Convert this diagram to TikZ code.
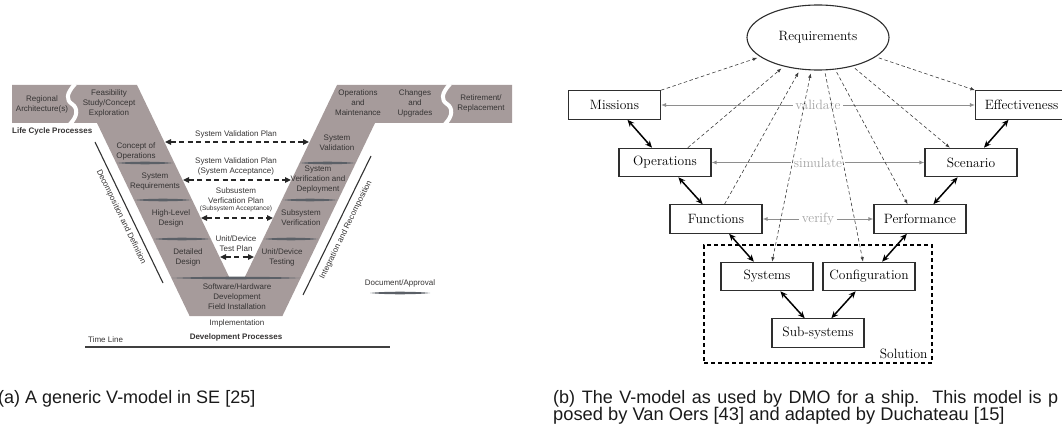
\documentclass[tikz,border=0pt]{standalone}
\usepackage{fontspec}
\newfontfamily\arialf{Liberation Sans}
\usetikzlibrary{arrows.meta,shapes.geometric,calc}

\definecolor{vfill}{HTML}{A69B9B}
\definecolor{vtext}{HTML}{363434}
\definecolor{lensc}{HTML}{5B6067}
\definecolor{boxc}{HTML}{2E2E2E}
\definecolor{dgray}{HTML}{3C3C3C}
\definecolor{lgray}{HTML}{8E8E8E}
\definecolor{ltext}{HTML}{A2A2A2}
\definecolor{captc}{HTML}{1A1A1A}

% thin lens-shaped document/approval mark between x=#1 and x=#2 at height #3
\newcommand\lensbar[3]{%
  \pgfmathsetmacro\lensa{#1+0.22*(#2-#1)}%
  \pgfmathsetmacro\lensb{#2-0.22*(#2-#1)}%
  \fill[lensc] (#1,#3) .. controls (\lensa,#3-1.7) and (\lensb,#3-1.7) .. (#2,#3)
    .. controls (\lensb,#3+1.7) and (\lensa,#3+1.7) .. (#1,#3) -- cycle;}

\begin{document}
\begin{tikzpicture}[x=1pt,y=-1pt,
  vt/.style={text=vtext, font=\arialf\fontsize{8}{10}\selectfont, align=center, inner sep=0pt},
  vsmall/.style={vt, font=\arialf\fontsize{6.5}{8}\selectfont},
  vbold/.style={vt, font=\arialf\bfseries\fontsize{8}{10}\selectfont},
  plan/.style={draw=black!85, line width=1.3pt, dash pattern=on 5pt off 3.5pt,
    {Triangle[length=6pt,width=5.5pt]}-{Triangle[length=6pt,width=5.5pt]}},
  slant/.style={draw=black!80, line width=1.1pt},
  capt/.style={text=captc, font=\arialf\fontsize{18}{17}\selectfont, inner sep=0pt},
  rbox/.style={draw=boxc, line width=1.1pt, minimum width=92pt, minimum height=28.5pt,
    inner sep=0pt, font=\fontsize{13.5}{15}\selectfont},
  glab/.style={text=ltext, font=\fontsize{13.5}{15}\selectfont, inner sep=2.5pt},
  tk/.style={draw=black, line width=1.5pt,
    {Stealth[length=7pt,width=6pt]}-{Stealth[length=7pt,width=6pt]}},
  dsh/.style={draw=dgray, line width=0.6pt, dash pattern=on 3.5pt off 2.5pt},
  dtip/.style={-{Latex[length=4.5pt,width=3.5pt]}},
  gar/.style={draw=lgray, line width=0.9pt, -{Latex[length=5pt,width=4pt]}}
]
\useasboundingbox (0,0) rectangle (1062,430);

% ---------------- (a) generic V-model ----------------
\fill[vfill] (12,85) -- (137,85) -- (229.6,278) -- (244.4,278) -- (337,85) -- (512,85)
  -- (512,123) -- (375,123) -- (282.4,316) -- (189.6,316) -- (97,123) -- (12,123) -- cycle;
% wavy breaks in the top bands
\draw[white, line width=4pt] (75,84) .. controls (66,94) and (66,100) .. (72,104)
  .. controls (78,108) and (78,116) .. (70,124);
\draw[white, line width=4pt] (450,84) .. controls (441,94) and (441,100) .. (447,104)
  .. controls (453,108) and (453,116) .. (445,124);

% document/approval marks
\lensbar{117}{173}{163}
\lensbar{135}{191}{200}
\lensbar{154}{210}{239}
\lensbar{300}{355}{163}
\lensbar{283}{337}{200}
\lensbar{264}{318}{239}
\lensbar{172}{300}{278}

% band and arm labels
\node[vt] (reg) at (42,104.5) {Regional\\Architecture(s)};
\node[vt] (fea) at (109,103) {Feasibility\\Study/Concept\\Exploration};
\node[vt] (opm) at (358,103) {Operations\\and\\Maintenance};
\node[vt] (chg) at (415,103) {Changes\\and\\Upgrades};
\node[vt] (ret) at (481,103) {Retirement/\\Replacement};
\node[vbold, anchor=west] (lcp) at (12,131) {Life Cycle Processes};

\node[vt] (cop) at (136,151) {Concept of\\Operations};
\node[vt] (sreq) at (155,181.5) {System\\Requirements};
\node[vt] (hld) at (171,218) {High-Level\\Design};
\node[vt] (dd) at (188,257) {Detailed\\Design};
\node[vt] (swhw) at (237,297) {Software/Hardware\\Development\\Field Installation};
\node[vt] (impl) at (237,323) {Implementation};
\node[vbold] (devp) at (236,337) {Development Processes};
\node[vt, anchor=west] (tl) at (88,340) {Time Line};

\node[vt] (sval) at (337,142.5) {System\\Validation};
\node[vt] (sver) at (318,180) {System\\Verification and\\Deployment};
\node[vt] (ssv) at (301,218) {Subsystem\\Verification};
\node[vt] (udt) at (282,257) {Unit/Device\\Testing};

% plans between the arms
\node[vt] (p1) at (236,134) {System Validation Plan};
\node[vt] (p2) at (236,166.5) {System Validation Plan\\(System Acceptance)};
\node[vt] (p3) at (236,195.5) {Subsustem\\Verfication Plan};
\node[vsmall] (p3s) at (236,209) {(Subsystem Acceptance)};
\node[vt] (p4) at (236,243.5) {Unit/Device\\Test Plan};

\coordinate (p1l) at (165,142);   \coordinate (p1r) at (309,142);
\coordinate (p2l) at (183,180);   \coordinate (p2r) at (291,180);
\coordinate (p3l) at (201,218);   \coordinate (p3r) at (273,218);
\coordinate (p4l) at (220,257);   \coordinate (p4r) at (254,257);
\draw[plan] (p1l) -- (p1r);
\draw[plan] (p2l) -- (p2r);
\draw[plan] (p3l) -- (p3r);
\draw[plan] (p4l) -- (p4r);

% decomposition / integration side lines
\coordinate (decA) at (95,142);  \coordinate (decB) at (163,283);
\coordinate (intA) at (303,295); \coordinate (intB) at (371,156);
\draw[slant] (decA) -- (decB);
\draw[slant] (intA) -- (intB);
\node[vt, rotate=-64.25] (dec) at (121,217) {Decomposition and Definition};
\node[vt, rotate=63.9] (int) at (346,230) {Integration and Recomposition};

% legend and time line
\node[vt] (doc) at (400,283) {Document/Approval};
\lensbar{370}{430}{293}
\coordinate (tlA) at (85,347); \coordinate (tlB) at (390,347);
\draw[draw=black!75, line width=1.6pt] (tlA) -- (tlB);

% ---------------- (b) ship V-model ----------------
\node[draw=boxc, line width=1.1pt, ellipse, minimum width=142pt, minimum height=65pt,
  inner sep=0pt, font=\fontsize{13.5}{15}\selectfont] (req) at (818,37.5) {Requirements};

\node[rbox] (mis) at (614.5,105) {Missions};
\node[rbox] (eff) at (1021.5,105) {Effectiveness};
\node[rbox] (ops) at (665,162.5) {Operations};
\node[rbox] (sce) at (971,162.5) {Scenario};
\node[rbox] (fun) at (716,219) {Functions};
\node[rbox] (per) at (920,219) {Performance};
\node[rbox] (sys) at (767,276.5) {Systems};
\node[rbox] (con) at (869,276.5) {Configuration};
\node[rbox] (sub) at (818,333) {Sub-systems};

\node[draw=black, line width=1.5pt, dash pattern=on 4pt off 3pt, minimum width=228pt,
  minimum height=118pt, inner sep=0pt] (sol) at (818,304) {};
\node[anchor=base east, inner sep=0pt, font=\fontsize{13.5}{15}\selectfont] (soltxt)
  at ($(sol.south east)+(-5,-5)$) {Solution};

% validate / simulate / verify
\node[glab] (val) at (818,105) {validate};
\node[glab] (sim) at (818,162.5) {simulate};
\node[glab] (ver) at (818,219) {verify};
\draw[gar] (val) -- (mis);
\draw[gar] (val) -- (eff);
\draw[gar] (sim) -- (ops);
\draw[gar] (sim) -- (sce);
\draw[gar] (ver) -- (fun);
\draw[gar] (ver) -- (per);

% traces to and from the requirements
\draw[dsh, dtip, shorten >=3pt] (mis.north east) -- (req);
\draw[dsh, dtip, shorten >=3pt] (ops.33) -- (req);
\draw[dsh, dtip, shorten >=3pt] (fun.60) -- (req);
\draw[dsh, {Latex[length=4.5pt,width=3.5pt]}-{Latex[length=4.5pt,width=3.5pt]},
  shorten <=3pt] (req) -- (sys.71);
\draw[dsh, dtip, shorten <=3pt] (req) -- (con.112);
\draw[dsh, dtip, shorten <=3pt] (req) -- (per.130);
\draw[dsh, dtip, shorten <=3pt] (req) -- (sce.145);
\draw[dsh, dtip, shorten <=3pt] (req) -- (eff.north west);

% decomposition links
\draw[tk] (mis) -- (ops);
\draw[tk] (ops) -- (fun);
\draw[tk] (fun) -- (sys);
\draw[tk] (eff) -- (sce);
\draw[tk] (sce) -- (per);
\draw[tk] (per) -- (con);
\draw[tk] (sys) -- (sub);
\draw[tk] (con) -- (sub);

% ---------------- captions ----------------
\node[capt, anchor=base west] (capa) at (-2,403) {(a) A generic V-model in SE [25]};
\node[capt, anchor=base west] (capb1) at (553,403)
  {\makebox[505pt][s]{(b) The V-model as used by DMO for a ship.\ \ This model is p}};
\node[capt, anchor=base west, font=\arialf\fontsize{18.3}{17}\selectfont] (capb2) at (553,420)
  {posed by Van Oers [43] and adapted by Duchateau [15]};
\end{tikzpicture}
\end{document}
